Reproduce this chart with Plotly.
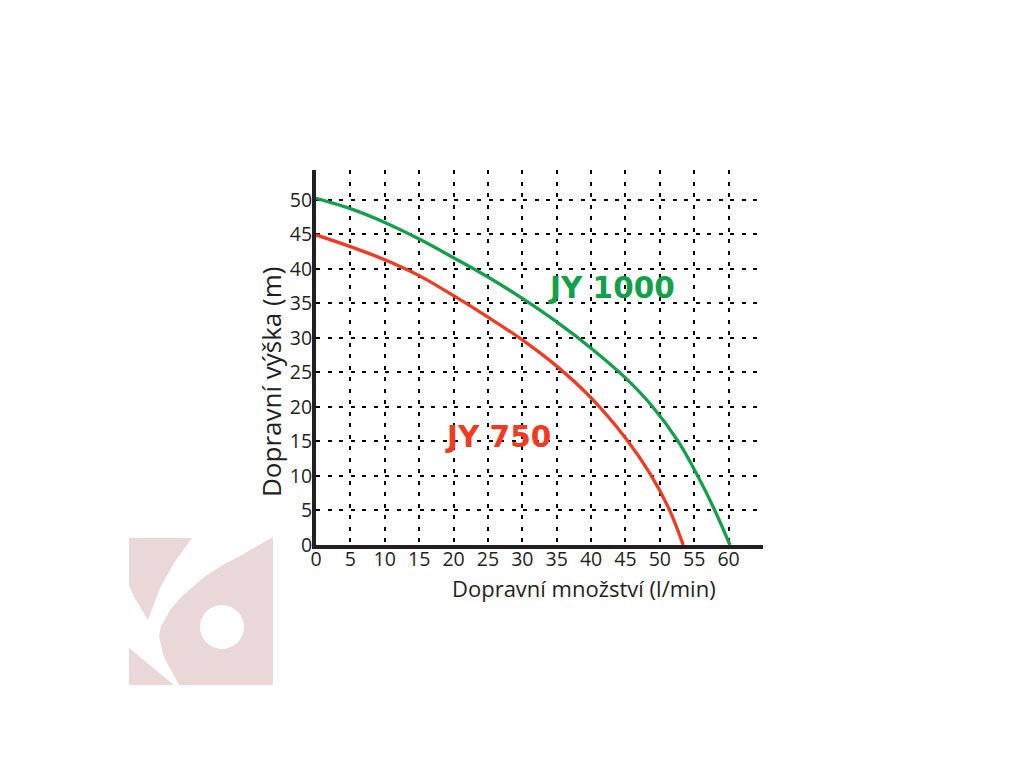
import plotly.graph_objects as go

# ---- data ----
flow_750 = [0, 5, 10, 15, 20, 25, 30, 35, 40, 45, 48.6, 51.3, 53.4]
head_750 = [44.9, 43.2, 41.3, 39.0, 36.1, 33.0, 29.7, 25.9, 21.3, 15.5, 10.3, 5.3, 0]
flow_1000 = [0, 5, 10, 15, 20, 25, 30, 35, 40, 45, 48.8, 52.6, 55.4, 58.0, 60.2]
head_1000 = [50.2, 48.7, 46.7, 44.3, 41.6, 38.8, 35.7, 32.3, 28.5, 24.2, 20.2, 15.1, 10.2, 5.0, 0]
x_ticks = [0, 5, 10, 15, 20, 25, 30, 35, 40, 45, 50, 55, 60]
y_ticks = [0, 5, 10, 15, 20, 25, 30, 35, 40, 45, 50]
label_750 = "JY 750"
label_1000 = "JY 1000"
x_title = "Dopravní množství (l/min)"
y_title = "Dopravní výška (m)"

GREEN = "#12a04b"
RED = "#f03a22"
AXIS = "#231f20"
FONT = "Open Sans"

W, H = 1024, 768
OFF = 8  # page offset of the figure div
L, R, T, B = 316, 763, 170, 545   # desired plot-area edges on the page


def px(x):
    return (x - L) / (R - L)


def py(y):
    return (B - y) / (B - T)


fig = go.Figure()
fig.add_trace(go.Scatter(x=flow_1000, y=head_1000, mode="lines",
                         line=dict(color=GREEN, width=3.3, shape="spline", smoothing=1.0),
                         showlegend=False, hoverinfo="skip"))
fig.add_trace(go.Scatter(x=flow_750, y=head_750, mode="lines",
                         line=dict(color=RED, width=3.3, shape="spline", smoothing=1.0),
                         showlegend=False, hoverinfo="skip"))

# watermark logo (decorative)
def path(points):
    s = "M %f,%f " % (px(points[0][0]), py(points[0][1]))
    for p in points[1:]:
        s += "L %f,%f " % (px(p[0]), py(p[1]))
    return s + "Z"

logo = "#ead8d8"
shapes = []
shapes.append(dict(type="path", xref="paper", yref="paper", layer="below",
                   path=path([(129, 538), (192, 538), (174, 563), (160, 588), (151, 612),
                              (148, 620), (134, 597), (129, 585)]),
                   fillcolor=logo, line=dict(width=0)))
shapes.append(dict(type="path", xref="paper", yref="paper", layer="below",
                   path=path([(129, 648), (174, 685), (129, 685)]),
                   fillcolor=logo, line=dict(width=0)))
shapes.append(dict(type="path", xref="paper", yref="paper", layer="below",
                   path=path([(179, 685), (164, 657), (159, 637), (161, 626), (170, 610),
                              (181, 597), (204, 577), (221, 566), (240, 556), (273, 537),
                              (273, 685)]),
                   fillcolor=logo, line=dict(width=0)))
shapes.append(dict(type="circle", xref="paper", yref="paper", layer="below",
                   x0=px(200), x1=px(244), y0=py(649), y1=py(605),
                   fillcolor="white", line=dict(width=0)))

fig.update_layout(
    width=W, height=H,
    margin=dict(l=L - OFF, r=W + OFF - R, t=T - OFF, b=H + OFF - B, pad=0),
    paper_bgcolor="white", plot_bgcolor="white",
    font=dict(family=FONT, color=AXIS, size=19.5),
    shapes=shapes,
    xaxis=dict(range=[0, 65], tickvals=x_ticks, showgrid=True, gridcolor="black",
               gridwidth=2, griddash="4px,7.5px", zeroline=False, showline=True,
               linecolor=AXIS, linewidth=4, ticks="", tickfont=dict(size=19.5, family=FONT),
               ticklabelstandoff=-6, fixedrange=True),
    yaxis=dict(range=[0, 54.3], tickvals=y_ticks, showgrid=True, gridcolor="black",
               gridwidth=2, griddash="4px,7.5px", zeroline=False, showline=True,
               linecolor=AXIS, linewidth=4, ticks="", tickfont=dict(size=19.5, family=FONT),
               ticklabelstandoff=-4, fixedrange=True),
    annotations=[
        dict(x=px(584), y=py(588), xref="paper", yref="paper", text=x_title, showarrow=False,
             font=dict(size=22, family=FONT, color=AXIS), xanchor="center", yanchor="middle"),
        dict(x=px(271), y=py(382), xref="paper", yref="paper", text=y_title, showarrow=False,
             textangle=-90, font=dict(size=26, family=FONT, color=AXIS),
             xanchor="center", yanchor="middle"),
        dict(x=43.0, y=37.2, xref="x", yref="y", text="<b>%s</b>" % label_1000, showarrow=False,
             font=dict(size=29.5, color=GREEN, family="DejaVu Sans"), xanchor="center", yanchor="middle"),
        dict(x=26.5, y=15.6, xref="x", yref="y", text="<b>%s</b>" % label_750, showarrow=False,
             font=dict(size=29.5, color=RED, family="DejaVu Sans"), xanchor="center", yanchor="middle"),
    ],
)

fig.write_html("out.html")
